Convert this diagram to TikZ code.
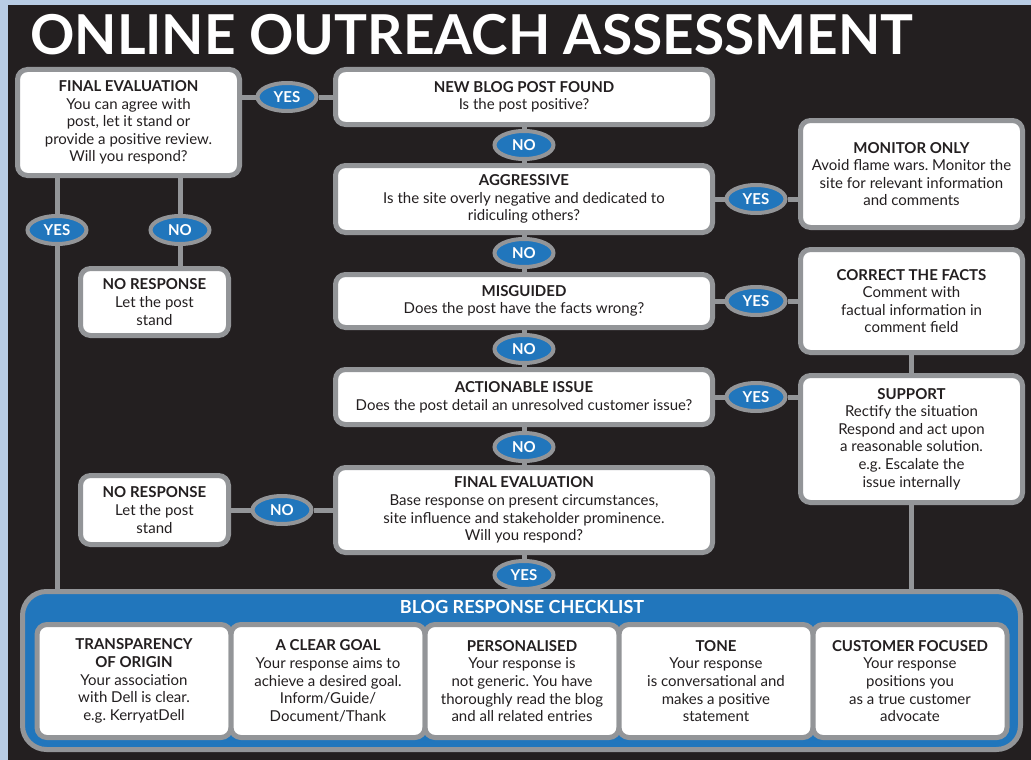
\documentclass[tikz,border=0pt]{standalone}
\usepackage{fontspec}
\setmainfont{Lato}
\usetikzlibrary{shapes.geometric}
\definecolor{ink}{RGB}{35,31,32}
\definecolor{rim}{RGB}{147,149,152}
\definecolor{dellblue}{RGB}{33,118,188}
\definecolor{paper}{RGB}{184,204,228}
\newcommand{\cardhead}[1]{{\bfseries #1}}
\frenchspacing

\begin{document}
\begin{tikzpicture}[x=1pt, y=-1pt,
	card/.style={draw=rim, line width=5pt, fill=white, rounded corners=10pt, inner sep=0pt,
		align=center, text=ink, font=\fontsize{15}{17.6}\selectfont},
	answer/.style={ellipse, draw=rim, line width=4pt, fill=dellblue, text=white, inner sep=0pt,
		minimum width=59pt, minimum height=28pt, font=\bfseries\fontsize{15}{15}\selectfont},
	link/.style={draw=rim, line width=5pt}]
	\useasboundingbox (0,0) rectangle (1031,760);
	% page and dark board
	\fill[paper] (0,0) rectangle (1031,760);
	\fill[ink] (8,5) rectangle (1031,760);
	\node[anchor=base west, inner sep=0pt, text=white, font=\bfseries\fontsize{55}{55}\selectfont] (title) at (30,55) {ONLINE OUTREACH ASSESSMENT};
	% main column
	\node[card, minimum width=377pt, minimum height=55pt] (blog) at (524,97) {\cardhead{NEW BLOG POST FOUND}\\ Is the post positive?};
	\node[card, minimum width=377pt, minimum height=67pt] (aggr) at (524,199) {\cardhead{AGGRESSIVE}\\ Is the site overly negative and dedicated to\\ ridiculing others?};
	\node[card, minimum width=377pt, minimum height=53pt] (misg) at (524,301) {\cardhead{MISGUIDED}\\ Does the post have the facts wrong?};
	\node[card, minimum width=377pt, minimum height=55pt] (action) at (524,397) {\cardhead{ACTIONABLE ISSUE}\\ Does the post detail an unresolved customer issue?};
	\node[card, minimum width=377pt, minimum height=85pt] (evalB) at (524,510) {\cardhead{FINAL EVALUATION}\\ Base response on present circumstances,\\ site influence and stakeholder prominence.\\ Will you respond?};
	\node[answer] (noA) at (524,145) {NO};
	\node[answer] (noB) at (524,253) {NO};
	\node[answer] (noC) at (524,349) {NO};
	\node[answer] (noD) at (524,447) {NO};
	\node[answer] (yesB) at (524,575) {YES};
	% right column
	\node[card, minimum width=222pt, minimum height=107pt] (monitor) at (911.5,174) {\cardhead{MONITOR ONLY}\\ Avoid flame wars. Monitor the\\ site for relevant information\\ and comments};
	\node[card, minimum width=222pt, minimum height=103pt] (correct) at (911.5,301) {\cardhead{CORRECT THE FACTS}\\ Comment with\\ factual information in\\ comment field};
	\node[card, minimum width=222pt, minimum height=127pt] (support) at (911.5,439) {\cardhead{SUPPORT}\\ Rectify the situation\\ Respond and act upon\\ a reasonable solution.\\ e.g. Escalate the\\ issue internally};
	\node[answer] (yesC) at (756,199) {YES};
	\node[answer] (yesD) at (756,301) {YES};
	\node[answer] (yesE) at (756,397) {YES};
	% left column
	\node[card, minimum width=222pt, minimum height=106pt] (evalA) at (128.5,122.5) {\cardhead{FINAL EVALUATION}\\ You can agree with\\ post, let it stand or\\ provide a positive review.\\ Will you respond?};
	\node[card, minimum width=148pt, minimum height=67pt] (nrA) at (154.5,302) {\cardhead{NO RESPONSE}\\ Let the post\\ stand};
	\node[card, minimum width=148pt, minimum height=69pt] (nrB) at (154.5,510) {\cardhead{NO RESPONSE}\\ Let the post\\ stand};
	\node[answer] (yesA) at (287,97) {YES};
	\node[answer] (yesF) at (57,230) {YES};
	\node[answer] (noE) at (180,230) {NO};
	\node[answer] (noF) at (282,510) {NO};
	% checklist panel
	\node[draw=rim, line width=5pt, fill=dellblue, rounded corners=24pt, minimum width=998pt, minimum height=158pt] (panel) at (521.5,670.5) {};
	\node[text=white, inner sep=0pt, font=\bfseries\fontsize{18}{18}\selectfont] (panelhead) at (522,607) {BLOG RESPONSE CHECKLIST};
	\node[card, minimum width=194pt, minimum height=113pt] (origin) at (134,681) {\cardhead{TRANSPARENCY}\\ \cardhead{OF ORIGIN}\\ Your association\\ with Dell is clear.\\ e.g. KerryatDell};
	\node[card, minimum width=194pt, minimum height=113pt] (goal) at (328,681) {\cardhead{A CLEAR GOAL}\\ Your response aims to\\ achieve a desired goal.\\ Inform/Guide/\\ Document/Thank};
	\node[card, minimum width=194pt, minimum height=113pt] (personal) at (522,681) {\cardhead{PERSONALISED}\\ Your response is\\ not generic. You have\\ thoroughly read the blog\\ and all related entries};
	\node[card, minimum width=194pt, minimum height=113pt] (tone) at (716,681) {\cardhead{TONE}\\ Your response\\ is conversational and\\ makes a positive\\ statement};
	\node[card, minimum width=194pt, minimum height=113pt] (focus) at (910,681) {\cardhead{CUSTOMER FOCUSED}\\ Your response\\ positions you\\ as a true customer\\ advocate};
	% connectors
	\draw[link] (yesA -| evalA.east) -- (yesA) -- (blog);
	\draw[link] (blog) -- (noA) -- (aggr) -- (noB) -- (misg) -- (noC) -- (action) -- (noD) -- (evalB) -- (yesB) -- (yesB |- panel.north);
	\draw[link] (aggr) -- (yesC) -- (yesC -| monitor.west);
	\draw[link] (misg) -- (yesD) -- (yesD -| correct.west);
	\draw[link] (action) -- (yesE) -- (yesE -| support.west);
	\draw[link] (correct) -- (support) -- (support |- panel.north);
	\draw[link] (yesF |- evalA.south) -- (yesF) -- (yesF |- panel.north);
	\draw[link] (noE |- evalA.south) -- (noE) -- (noE |- nrA.north);
	\draw[link] (nrB) -- (noF) -- (evalB);
\end{tikzpicture}
\end{document}
